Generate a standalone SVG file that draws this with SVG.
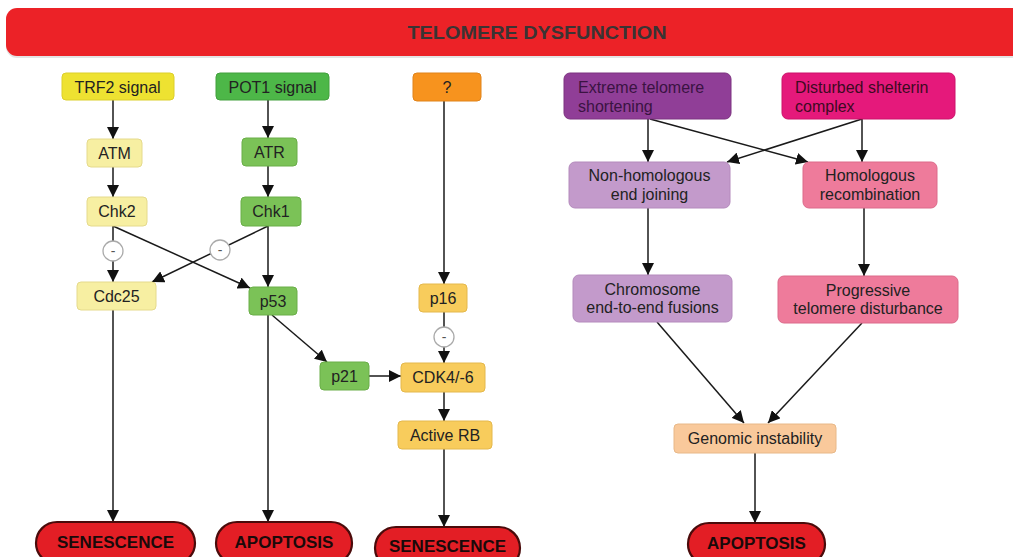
<svg xmlns="http://www.w3.org/2000/svg" width="1013" height="557" viewBox="0 0 1013 557">
<style>
text{font-family:"Liberation Sans",Arial,sans-serif;font-size:16px;fill:#222}
.c{text-anchor:middle}
.term{fill:#E31E25;stroke:#4a0b0b;stroke-width:2.2}
.tt{font-weight:bold;font-size:17px;fill:#1a0a0a;text-anchor:middle}
.e{stroke:#1a1a1a;stroke-width:1.5;fill:none;marker-end:url(#ah)}
.minus{fill:#fff;stroke:#aaa;stroke-width:1.3}
.mt{font-size:14px;fill:#555;text-anchor:middle}
</style>
<defs>
<marker id="ah" viewBox="0 0 12 12" refX="12" refY="6" markerWidth="12" markerHeight="12" markerUnits="userSpaceOnUse" orient="auto">
<path d="M0,0 L12,6 L0,12 z" fill="#111"/>
</marker>
</defs>
<rect width="1013" height="557" fill="#fff"/>
<g id="header">
<rect x="6" y="10" width="1020" height="48" rx="11" fill="#C9C9C9" opacity="0.5"/>
<rect x="6" y="8" width="1020" height="48" rx="11" fill="#EC2227"/>
<text x="537" y="39" class="c" style="font-weight:bold;font-size:18px;fill:#3a3434" textLength="259" lengthAdjust="spacingAndGlyphs">TELOMERE DYSFUNCTION</text>
</g>
<g id="connectors">
<line class="e" x1="113" y1="100" x2="113" y2="139"/>
<line class="e" x1="113" y1="167" x2="113" y2="197"/>
<line class="e" x1="113" y1="226" x2="113" y2="282"/>
<line class="e" x1="113" y1="226" x2="250" y2="288"/>
<line class="e" x1="268" y1="100" x2="268" y2="138"/>
<line class="e" x1="268" y1="166" x2="268" y2="197"/>
<line class="e" x1="268" y1="226" x2="268" y2="287"/>
<line class="e" x1="268" y1="226" x2="152" y2="282"/>
<line class="e" x1="113" y1="310" x2="113" y2="522"/>
<line class="e" x1="268" y1="315" x2="268" y2="522"/>
<line class="e" x1="272" y1="315" x2="327" y2="362"/>
<line class="e" x1="369" y1="376" x2="401" y2="376"/>
<line class="e" x1="444" y1="101" x2="444" y2="284"/>
<line class="e" x1="444" y1="312" x2="444" y2="363"/>
<line class="e" x1="444" y1="392" x2="444" y2="421"/>
<line class="e" x1="444" y1="449" x2="444" y2="527"/>
<line class="e" x1="648" y1="119" x2="648" y2="162"/>
<line class="e" x1="650" y1="119" x2="808" y2="162"/>
<line class="e" x1="862" y1="119" x2="862" y2="162"/>
<line class="e" x1="862" y1="119" x2="727" y2="162"/>
<line class="e" x1="648" y1="208" x2="648" y2="275"/>
<line class="e" x1="864" y1="208" x2="864" y2="276"/>
<line class="e" x1="657" y1="322" x2="744" y2="423"/>
<line class="e" x1="862" y1="323" x2="768" y2="423"/>
<line class="e" x1="755" y1="453" x2="755" y2="523"/>
<circle class="minus" cx="113" cy="251" r="10"/>
<text x="113" y="256" class="mt">-</text>
<circle class="minus" cx="220" cy="250" r="10"/>
<text x="220" y="255" class="mt">-</text>
<circle class="minus" cx="444" cy="337" r="10"/>
<text x="444" y="342" class="mt">-</text>
</g>
<g id="trf2"><rect x="62" y="73" width="112" height="27" rx="4" fill="#EEE231" stroke="#DCCF2A"/><text x="117.5" y="92.5" class="c">TRF2 signal</text></g>
<g id="pot1"><rect x="216" y="73" width="113" height="27" rx="4" fill="#4DB748" stroke="#42A03D"/><text x="272.5" y="92.5" class="c">POT1 signal</text></g>
<g id="q"><rect x="413" y="73" width="68" height="28" rx="4" fill="#F7931E" stroke="#E0831A"/><text x="447" y="92.5" class="c">?</text></g>
<g id="atm"><rect x="87" y="139" width="55" height="28" rx="4" fill="#F7EFA2" stroke="#E5DA8C"/><text x="114.5" y="158.5" class="c">ATM</text></g>
<g id="atr"><rect x="242" y="138" width="55" height="28" rx="4" fill="#7BC257" stroke="#6AAE48"/><text x="269.5" y="157.5" class="c">ATR</text></g>
<g id="chk2"><rect x="87" y="197" width="60" height="29" rx="4" fill="#F7EFA2" stroke="#E5DA8C"/><text x="117" y="217" class="c">Chk2</text></g>
<g id="chk1"><rect x="241" y="197" width="60" height="29" rx="4" fill="#7BC257" stroke="#6AAE48"/><text x="271" y="217" class="c">Chk1</text></g>
<g id="cdc25"><rect x="77" y="282" width="79" height="28" rx="4" fill="#F7EFA2" stroke="#E5DA8C"/><text x="116.5" y="301.5" class="c">Cdc25</text></g>
<g id="p53"><rect x="249" y="287" width="48" height="28" rx="4" fill="#7BC257" stroke="#6AAE48"/><text x="273" y="306.5" class="c">p53</text></g>
<g id="p16"><rect x="419" y="284" width="48" height="28" rx="4" fill="#F8CC5C" stroke="#E4B84C"/><text x="443" y="303.5" class="c">p16</text></g>
<g id="p21"><rect x="320" y="362" width="49" height="28" rx="4" fill="#7BC257" stroke="#6AAE48"/><text x="344.5" y="381.5" class="c">p21</text></g>
<g id="cdk"><rect x="401" y="363" width="84" height="29" rx="4" fill="#F8CC5C" stroke="#E4B84C"/><text x="443" y="383" class="c">CDK4/-6</text></g>
<g id="rb"><rect x="398" y="421" width="94" height="28" rx="4" fill="#F8CC5C" stroke="#E4B84C"/><text x="445" y="440.5" class="c">Active RB</text></g>
<g id="extreme"><rect x="564" y="73" width="167" height="46" rx="6" fill="#903E97" stroke="#7D3380"/><text x="578" y="93" style="fill:#3a1342">Extreme telomere</text><text x="578" y="112" style="fill:#3a1342">shortening</text></g>
<g id="disturbed"><rect x="782" y="73" width="173" height="46" rx="6" fill="#E5197B" stroke="#CC126A"/><text x="795" y="93" style="fill:#3d0a22">Disturbed shelterin</text><text x="795" y="112" style="fill:#3d0a22">complex</text></g>
<g id="nhej"><rect x="569" y="162" width="161" height="46" rx="6" fill="#C39ACB" stroke="#B48ABC"/><text x="649.5" y="181" class="c">Non-homologous</text><text x="649.5" y="200" class="c">end joining</text></g>
<g id="hr"><rect x="803" y="162" width="134" height="46" rx="6" fill="#EE7B9B" stroke="#DC6A8A"/><text x="870" y="181" class="c">Homologous</text><text x="870" y="200" class="c">recombination</text></g>
<g id="chrom"><rect x="573" y="275" width="159" height="47" rx="6" fill="#C39ACB" stroke="#B48ABC"/><text x="652.5" y="295" class="c">Chromosome</text><text x="652.5" y="313" class="c">end-to-end fusions</text></g>
<g id="prog"><rect x="778" y="276" width="180" height="47" rx="6" fill="#EE7B9B" stroke="#DC6A8A"/><text x="868" y="296" class="c">Progressive</text><text x="868" y="314" class="c">telomere disturbance</text></g>
<g id="genomic"><rect x="674" y="424" width="162" height="29" rx="4" fill="#F9C99B" stroke="#E8B888"/><text x="755" y="444" class="c">Genomic instability</text></g>
<g id="sen1"><rect x="36" y="522" width="159" height="42" rx="21" class="term"/><text x="115.5" y="548" class="tt">SENESCENCE</text></g>
<g id="apo1"><rect x="216" y="522" width="136" height="42" rx="21" class="term"/><text x="284" y="548" class="tt">APOPTOSIS</text></g>
<g id="sen2"><rect x="375" y="527" width="145" height="42" rx="21" class="term"/><text x="447.5" y="552" class="tt">SENESCENCE</text></g>
<g id="apo2"><rect x="688" y="523" width="137" height="42" rx="21" class="term"/><text x="756.5" y="549" class="tt">APOPTOSIS</text></g>
</svg>
